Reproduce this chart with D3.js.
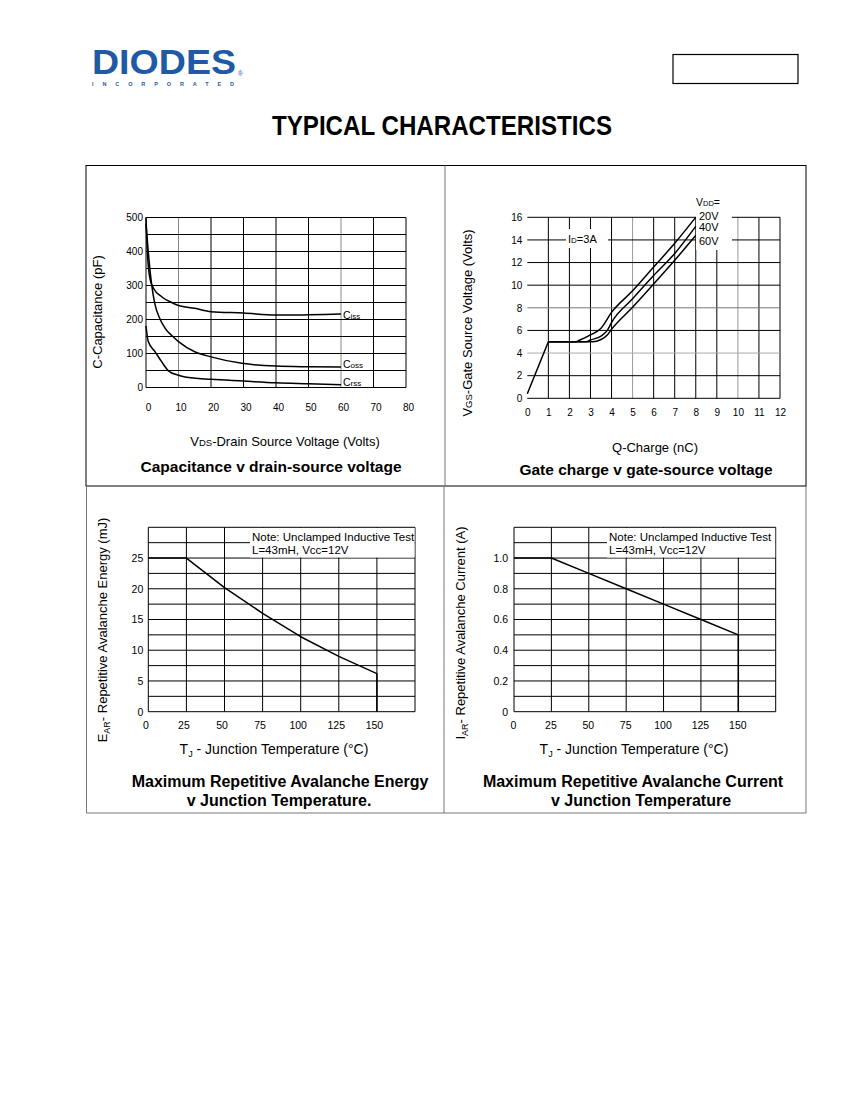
<!DOCTYPE html>
<html>
<head>
<meta charset="utf-8">
<script src="https://cdn.jsdelivr.net/npm/d3@7/dist/d3.min.js"></script>
<style>
  body { margin: 0; background: #fff; }
  text { font-family: "Liberation Sans", Arial, sans-serif; fill: #000; }
</style>
</head>
<body>
<svg id="page" width="850" height="1100"></svg>
<script>
// ---- data ----

// capacitance v drain-source voltage
const capVoltGrid = [0, 10, 20, 30, 40, 50, 60, 70, 80];
const capGrid = [0, 50, 100, 150, 200, 250, 300, 350, 400, 450, 500];
const capTicks = [0, 100, 200, 300, 400, 500];
const cissV = [0, 0.4, 1.2, 2.3, 4.8, 7.9, 10, 15, 20, 30, 40, 45, 50, 60];
const cissC = [500, 400, 321, 292, 267, 250, 241, 233, 223, 219, 213, 213, 214, 216];
const cossV = [0, 0.7, 1.4, 2.8, 4, 5.9, 8, 10, 15, 20, 29.5, 40, 50, 60];
const cossC = [480, 400, 330, 243, 208, 174, 152, 135, 105, 90, 71, 63, 61, 60];
const crssV = [0, 0.7, 2.8, 4.8, 6.9, 10, 12, 20, 30, 40, 50, 60];
const crssC = [181, 135, 105, 76, 49, 36, 31, 24, 19, 14, 11, 8];

// gate charge v gate-source voltage
const qGrid = [0, 1, 2, 3, 4, 5, 6, 7, 8, 9, 10, 11, 12];
const vgsGrid = [0, 2, 4, 6, 8, 10, 12, 14, 16];
const rampQ = [0, 0.5, 1];
const rampV = [0.4, 2.7, 5];
const vdd20Q = [1, 2.3, 2.5, 3, 3.5, 4, 5, 6, 7, 8];
const vdd20V = [5, 5, 5.15, 5.6, 6.2, 7.6, 9.5, 11.6, 13.7, 16];
const vdd40Q = [1, 2.8, 3, 3.5, 3.8, 4, 5, 6, 7, 8];
const vdd40V = [5, 5, 5.15, 5.5, 6, 6.7, 8.8, 10.85, 12.8, 15.2];
const vdd60Q = [1, 3.1, 3.5, 3.8, 4, 5, 6, 7, 8];
const vdd60V = [5, 5, 5.2, 5.6, 6.1, 8.05, 10.1, 12.2, 14.4];
const vddLabels = ["20V", "40V", "60V"];

// avalanche energy / current v junction temperature
const tempGrid = [0, 25, 50, 75, 100, 125, 150, 175];
const tempTicks = [0, 25, 50, 75, 100, 125, 150];
const tempPts = [0, 25, 50, 75, 100, 125, 150, 150];
const energyPts = [25, 25, 20.2, 16, 12.2, 9, 6.2, 0];
const energyGrid = [0, 2.5, 5, 7.5, 10, 12.5, 15, 17.5, 20, 22.5, 25, 27.5, 30];
const energyTicks = [0, 5, 10, 15, 20, 25];
const currentPts = [1, 1, 0.9, 0.8, 0.7, 0.6, 0.5, 0];
const currentGrid = [0, 0.1, 0.2, 0.3, 0.4, 0.5, 0.6, 0.7, 0.8, 0.9, 1.0, 1.1, 1.2];
const currentTicks = [0, 0.2, 0.4, 0.6, 0.8, 1.0];
const noteLines = ["Note: Unclamped Inductive Test", "L=43mH, Vcc=12V"];

const svg = d3.select("#page");

// ---- page header ----
svg.append("text")
  .attr("x", 92).attr("y", 74)
  .attr("font-size", 35).attr("font-weight", "bold")
  .attr("textLength", 144).attr("lengthAdjust", "spacingAndGlyphs")
  .style("fill", "#1f5aa6")
  .text("DIODES");
svg.append("text")
  .attr("x", 92).attr("y", 86)
  .attr("font-size", 5.5).attr("font-weight", "bold")
  .attr("textLength", 142).attr("lengthAdjust", "spacing")
  .style("fill", "#1f5aa6")
  .text("INCORPORATED");
svg.append("text")
  .attr("x", 238).attr("y", 76)
  .attr("font-size", 6.5)
  .style("fill", "#1f5aa6")
  .text("®");
svg.append("rect")
  .attr("x", 673).attr("y", 54.5).attr("width", 125).attr("height", 29)
  .attr("fill", "none").attr("stroke", "#000").attr("stroke-width", 1.2);
svg.append("text")
  .attr("x", 272).attr("y", 135)
  .attr("font-size", 28).attr("font-weight", "bold")
  .attr("textLength", 340).attr("lengthAdjust", "spacingAndGlyphs")
  .text("TYPICAL CHARACTERISTICS");

// panel frames
svg.append("rect")
  .attr("x", 86).attr("y", 165.5).attr("width", 720).attr("height", 320.5)
  .attr("fill", "none").attr("stroke", "#000");
svg.append("line")
  .attr("x1", 445).attr("x2", 445).attr("y1", 165.5).attr("y2", 486)
  .attr("stroke", "#777");
svg.append("path")
  .attr("d", "M86.5,486 V813 H806 V486")
  .attr("fill", "none").attr("stroke", "#777");
svg.append("line")
  .attr("x1", 444).attr("x2", 444).attr("y1", 486).attr("y2", 813)
  .attr("stroke", "#777");

// ---- helpers ----
function grid(g, x, y, xs, ys, colour) {
  g.selectAll(null).data(xs).join("line")
    .attr("x1", d => x(d)).attr("x2", d => x(d))
    .attr("y1", y.range()[0]).attr("y2", y.range()[1])
    .attr("stroke", d => colour(d, "x")).attr("stroke-width", 1);
  g.selectAll(null).data(ys).join("line")
    .attr("y1", d => y(d)).attr("y2", d => y(d))
    .attr("x1", x.range()[0]).attr("x2", x.range()[1])
    .attr("stroke", d => colour(d, "y")).attr("stroke-width", 1);
}

function curve(g, x, y, xs, ys, type) {
  const pts = xs.map((v, i) => [v, ys[i]]);
  g.append("path")
    .datum(pts)
    .attr("fill", "none").attr("stroke", "#000").attr("stroke-width", 1.5)
    .attr("stroke-linejoin", "round")
    .attr("d", d3.line().x(d => x(d[0])).y(d => y(d[1])).curve(type || d3.curveLinear));
}

function axes(g, x, y, opts) {
  const ax = g.append("g")
    .attr("transform", `translate(${opts.xShift || 0},${y.range()[0]})`)
    .call(d3.axisBottom(x).tickValues(opts.xTicks).tickSize(0).tickPadding(opts.xPad)
      .tickFormat(opts.xFormat || d3.format("d")));
  const ay = g.append("g")
    .attr("transform", `translate(${x.range()[0]},0)`)
    .call(d3.axisLeft(y).tickValues(opts.yTicks).tickSize(0).tickPadding(opts.yPad)
      .tickFormat(opts.yFormat || d3.format("d")));
  [ax, ay].forEach(a => {
    a.select(".domain").remove();
    a.attr("font-family", null).attr("font-size", null);
    a.selectAll("text").attr("font-size", opts.fs || 10).style("fill", "#000");
  });
}

// text with small sub-parts: parts = [[str, size, dy], ...]
function label(parent, cx, cy, parts, opts) {
  const t = parent.append("text")
    .attr("text-anchor", opts.anchor || "middle")
    .attr("font-weight", opts.bold ? "bold" : null)
    .attr("transform", `translate(${cx},${cy})` + (opts.rot ? " rotate(-90)" : ""));
  parts.forEach(p => {
    t.append("tspan")
      .attr("font-size", p[1])
      .attr("dy", p[2] || 0)
      .text(p[0]);
  });
  return t;
}

// ---- chart 1: capacitance ----
{
  const g = svg.append("g");
  const x = d3.scaleLinear().domain([0, 80]).range([146, 406]);
  const y = d3.scaleLinear().domain([0, 500]).range([387.5, 217.5]);
  grid(g, x, y, capVoltGrid, capGrid, (d, k) => (k === "x" && (d === 10 || d === 60)) ? "#888" : "#000");
  curve(g, x, y, cissV, cissC, d3.curveMonotoneX);
  curve(g, x, y, cossV, cossC, d3.curveMonotoneX);
  curve(g, x, y, crssV, crssC, d3.curveMonotoneX);
  axes(g, x, y, { xTicks: capVoltGrid, yTicks: capTicks, xPad: 16, yPad: 3, xShift: 2 });
  label(g, 343, 319, [["C", 10.5], ["iss", 8]], { anchor: "start" });
  label(g, 343, 368, [["C", 10.5], ["oss", 8]], { anchor: "start" });
  label(g, 343, 386, [["C", 10.5], ["rss", 8]], { anchor: "start" });
  label(g, 97, 312, [["C-Capacitance (pF)", 13, "0.35em"]], { rot: true });
  label(g, 285, 446, [["V", 13], ["DS", 9.5], ["-Drain Source Voltage (Volts)", 13]], {});
  label(g, 271, 471.5, [["Capacitance v drain-source voltage", 15.5]], { bold: true });
}

// ---- chart 2: gate charge ----
{
  const g = svg.append("g");
  const x = d3.scaleLinear().domain([0, 12]).range([527.3, 780]);
  const y = d3.scaleLinear().domain([0, 16]).range([398.3, 217.3]);
  grid(g, x, y, qGrid.filter(d => d > 0), vgsGrid, (d, k) => {
    if (k === "x" && (d === 5 || d === 10)) return "#999";
    if (k === "y" && d === 4) return "#aaa";
    if (k === "y" && d === 8) return "#777";
    return "#000";
  });
  // label boxes blank out the grid behind them
  g.append("rect").attr("x", 566).attr("y", 229).attr("width", 42).attr("height", 19).attr("fill", "#fff");
  g.append("rect").attr("x", 696).attr("y", 205).attr("width", 36).attr("height", 45).attr("fill", "#fff");
  curve(g, x, y, rampQ, rampV);
  curve(g, x, y, vdd20Q, vdd20V, d3.curveMonotoneX);
  curve(g, x, y, vdd40Q, vdd40V, d3.curveMonotoneX);
  curve(g, x, y, vdd60Q, vdd60V, d3.curveMonotoneX);
  axes(g, x, y, { xTicks: qGrid, yTicks: vgsGrid, xPad: 11, yPad: 5 });
  label(g, 568, 243, [["I", 11], ["D", 8], ["=3A", 11]], { anchor: "start" });
  label(g, 696, 206, [["V", 10.5], ["DD", 7.5], ["=", 10.5]], { anchor: "start" });
  g.selectAll(null).data(vddLabels).join("text")
    .attr("x", 699).attr("y", (d, i) => [220, 231, 245][i])
    .attr("font-size", 11)
    .text(d => d);
  label(g, 472, 323, [["V", 13], ["GS", 9.5], ["-Gate Source Voltage (Volts)", 13]], { rot: true }).attr("dy", "0.35em");
  label(g, 655, 452, [["Q-Charge (nC)", 13]], {});
  label(g, 646, 474.5, [["Gate charge v gate-source voltage", 15.5]], { bold: true });
}

// ---- charts 3 & 4: avalanche rating ----
function avalanche(xr, yDomain, yGridVals, yTickVals, vals, yFmt, yPad, xShift, noteX, yTitle, titleLines, cx) {
  const g = svg.append("g");
  const x = d3.scaleLinear().domain([0, 175]).range(xr);
  const y = d3.scaleLinear().domain(yDomain).range([711.7, 527.3]);
  grid(g, x, y, tempGrid, yGridVals, () => "#000");
  g.append("rect").attr("x", noteX).attr("y", 528).attr("width", xr[1] - noteX - 0.5).attr("height", 29.5).attr("fill", "#fff");
  g.selectAll(null).data(noteLines).join("text")
    .attr("x", noteX + 2).attr("y", (d, i) => 541 + i * 13)
    .attr("font-size", 11.5)
    .text(d => d);
  curve(g, x, y, tempPts, vals);
  axes(g, x, y, { xTicks: tempTicks, yTicks: yTickVals, xPad: 10, yPad: yPad, xShift: xShift, yFormat: yFmt, fs: 10.5 });
  label(g, yTitle.cx, yTitle.cy, yTitle.parts, { rot: true }).attr("dy", "0.35em");
  label(g, cx.axis, 754, [["T", 14], ["J", 9, "3"], [" - Junction Temperature (°C)", 14, "-3"]], {});
  label(g, cx.title1, 787, [[titleLines[0], 16]], { bold: true });
  label(g, cx.title2, 806, [[titleLines[1], 16]], { bold: true });
}

avalanche([148.3, 415], [0, 30], energyGrid, energyTicks, energyPts, d3.format("d"), 5, -3, 250,
  { cx: 107, cy: 630, parts: [["E", 13], ["AR", 9, "3"], ["- Repetitive Avalanche Energy (mJ)", 13, "-3"]] },
  ["Maximum Repetitive Avalanche Energy", "v Junction Temperature."],
  { axis: 274, title1: 280, title2: 279 });

avalanche([514, 775.7], [0, 1.2], currentGrid, currentTicks, currentPts, d => d === 0 ? "0" : d.toFixed(1), 6, -1, 607,
  { cx: 465, cy: 633, parts: [["I", 13], ["AR", 9, "3"], ["- Repetitive Avalanche Current (A)", 13, "-3"]] },
  ["Maximum  Repetitive Avalanche Current", "v Junction Temperature"],
  { axis: 634, title1: 633, title2: 641 });
</script>
</body>
</html>
